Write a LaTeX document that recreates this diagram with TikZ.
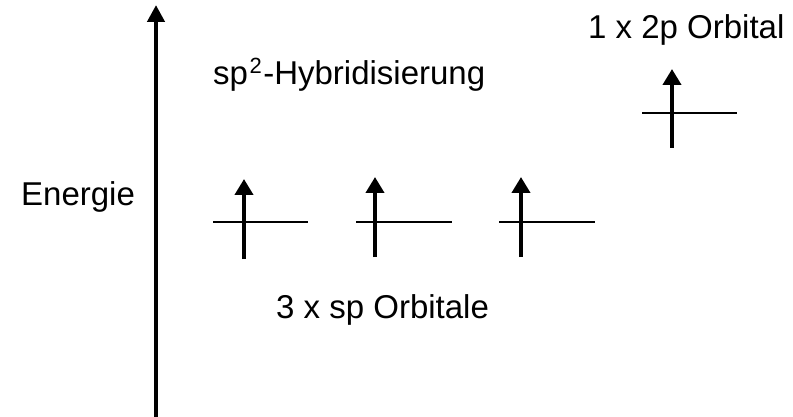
\documentclass[tikz,border=0pt]{standalone}
\usepackage{fontspec}
\setmainfont{Liberation Sans}
\usetikzlibrary{arrows.meta}
\begin{document}
\begin{tikzpicture}[x=1pt,y=-1pt,
  lbl/.style={font=\fontsize{33}{38}\selectfont, inner sep=0pt, anchor=base west},
  axisarrow/.style={line width=4.5pt, -{Triangle[length=17pt,width=17pt]}},
  spinarrow/.style={line width=4.5pt, -{Triangle[length=16pt,width=18pt]}},
  level/.style={line width=2.2pt}]
\useasboundingbox (0,0) rectangle (793,417);
% energy axis
\coordinate (axb) at (156,417);
\coordinate (axt) at (156,5);
\draw[axisarrow] (axb) -- (axt);
% labels
\node[lbl] (en) at (21,206) {Energie};
\node[lbl] (hyb) at (213,85) {sp\hspace{1.5pt}\raisebox{11pt}{\fontsize{22}{22}\selectfont 2}\hspace{1.5pt}-Hybridisierung};
\node[lbl] (p2) at (588,39) {1 x 2p Orbital};
\node[lbl] (sp3) at (276,318) {3 x sp Orbitale};
% sp orbitals
\coordinate (l1a) at (213,222); \coordinate (l1b) at (308,222);
\coordinate (a1b) at (244,259); \coordinate (a1t) at (244,179);
\coordinate (l2a) at (356,222); \coordinate (l2b) at (452,222);
\coordinate (a2b) at (375,257); \coordinate (a2t) at (375,177);
\coordinate (l3a) at (499,222); \coordinate (l3b) at (595,222);
\coordinate (a3b) at (521,257); \coordinate (a3t) at (521,177);
\draw[level] (l1a) -- (l1b);
\draw[level] (l2a) -- (l2b);
\draw[level] (l3a) -- (l3b);
\draw[spinarrow] (a1b) -- (a1t);
\draw[spinarrow] (a2b) -- (a2t);
\draw[spinarrow] (a3b) -- (a3t);
% p orbital
\coordinate (l4a) at (642,113); \coordinate (l4b) at (737,113);
\coordinate (a4b) at (672,148); \coordinate (a4t) at (672,69);
\draw[level] (l4a) -- (l4b);
\draw[spinarrow] (a4b) -- (a4t);
\end{tikzpicture}
\end{document}
